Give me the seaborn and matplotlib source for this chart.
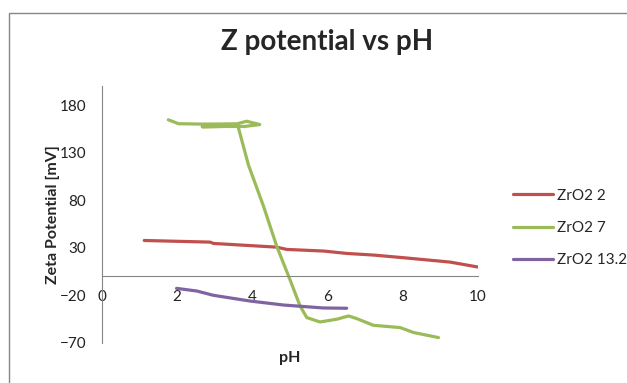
import matplotlib
matplotlib.use("Agg")
import matplotlib.pyplot as plt
import seaborn as sns
import pandas as pd
from matplotlib.patches import Rectangle

# ---- data ----
red_ph = [1.13, 2.88, 2.97, 4.65, 4.92, 5.90, 6.51, 7.22, 8.02, 9.26, 10.0]
red_zeta = [37.7, 36.0, 34.6, 30.7, 28.3, 26.6, 24.1, 22.4, 19.6, 15.0, 9.8]

green_ph = [1.77, 2.04, 2.6, 3.0, 3.6, 3.85, 4.2, 3.8, 3.3, 2.67, 3.2, 3.62,
            3.9, 4.3, 4.65, 5.0, 5.27, 5.45, 5.8, 6.25, 6.56, 6.78,
            7.22, 7.93, 8.29, 8.95]
green_zeta = [164.5, 160.4, 160.0, 160.0, 160.3, 163.0, 159.5, 157.5, 157.5,
              157.2, 157.5, 158.0, 117.0, 73.7, 31.8, -3.1, -31.0,
              -43.3, -47.9, -45.0, -41.6, -44.4, -51.4, -53.8, -59.0, -64.3]

purple_ph = [1.99, 2.53, 2.97, 3.94, 4.83, 5.89, 6.51]
purple_zeta = [-12.6, -15.4, -19.9, -25.9, -30.1, -33.2, -33.5]

series_names = ["ZrO2 2", "ZrO2 7", "ZrO2 13.2"]
colors = ["#C0504D", "#9BBB59", "#8064A2"]
x_ticks = [0, 2, 4, 6, 8, 10]
y_ticks = [-70, -20, 30, 80, 130, 180]

title = "Z potential vs pH"
xlabel = "pH"
ylabel = "Zeta Potential [mV]"

# ---- plot ----
sns.set_style("white")
plt.rcParams["font.family"] = ["Lato", "DejaVu Sans"]

W, H = 627, 383
fig = plt.figure(figsize=(W / 100, H / 100), dpi=100)
ax = fig.add_axes([101.7 / W, 1 - 343 / H, 376.3 / W, (343 - 86) / H])

frames = []
for name, xs, ys in [(series_names[0], red_ph, red_zeta),
                     (series_names[1], green_ph, green_zeta),
                     (series_names[2], purple_ph, purple_zeta)]:
    df = pd.DataFrame({"pH": xs, "zeta": ys})
    df["series"] = name
    frames.append(df)

for df, c in zip(frames, colors):
    sns.lineplot(data=df, x="pH", y="zeta", sort=False, color=c, lw=2.3,
                 label=df["series"].iloc[0], ax=ax, estimator=None)

ax.set_xlim(0, 10)
ax.set_ylim(-70, 200)
ax.set_xticks(x_ticks)
ax.set_yticks(y_ticks)

axis_col = "#868686"
for s in ["top", "right"]:
    ax.spines[s].set_visible(False)
ax.spines["bottom"].set_position(("data", 0))
ax.spines["bottom"].set_color(axis_col)
ax.spines["left"].set_color(axis_col)
ax.spines["bottom"].set_linewidth(0.8)
ax.spines["left"].set_linewidth(0.8)
ax.tick_params(axis="both", which="both", direction="out", length=4,
               width=0.8, color=axis_col, labelsize=11, labelcolor="#222222")
ax.tick_params(axis="x", pad=6)
ax.tick_params(axis="y", pad=7)
ax.set_xlabel("")
ax.set_ylabel("")

fig.text(290 / W, 1 - 358 / H, xlabel, ha="center", va="center",
         fontsize=11.5, fontweight="bold")
fig.text(53 / W, 1 - 215 / H, ylabel, ha="center", va="center",
         rotation=90, fontsize=11.5, fontweight="bold")
fig.text(327 / W, 1 - 42 / H, title, ha="center", va="center",
         fontsize=20, fontweight="bold")

ax.legend_.remove()
handles, labels = ax.get_legend_handles_labels()
fig.legend(handles, labels, loc="center left", frameon=False,
           bbox_to_anchor=(513 / W, 1 - 228 / H), bbox_transform=fig.transFigure,
           borderpad=0, borderaxespad=0, handlelength=2.6, handletextpad=0.25,
           labelspacing=1.2, fontsize=11)

fig.patches.append(Rectangle((9 / W, -0.05), 1.2, 1 - 13 / H + 0.05,
                             transform=fig.transFigure, fill=False,
                             edgecolor=axis_col, lw=1.0))

fig.savefig("out.png", dpi=100)
